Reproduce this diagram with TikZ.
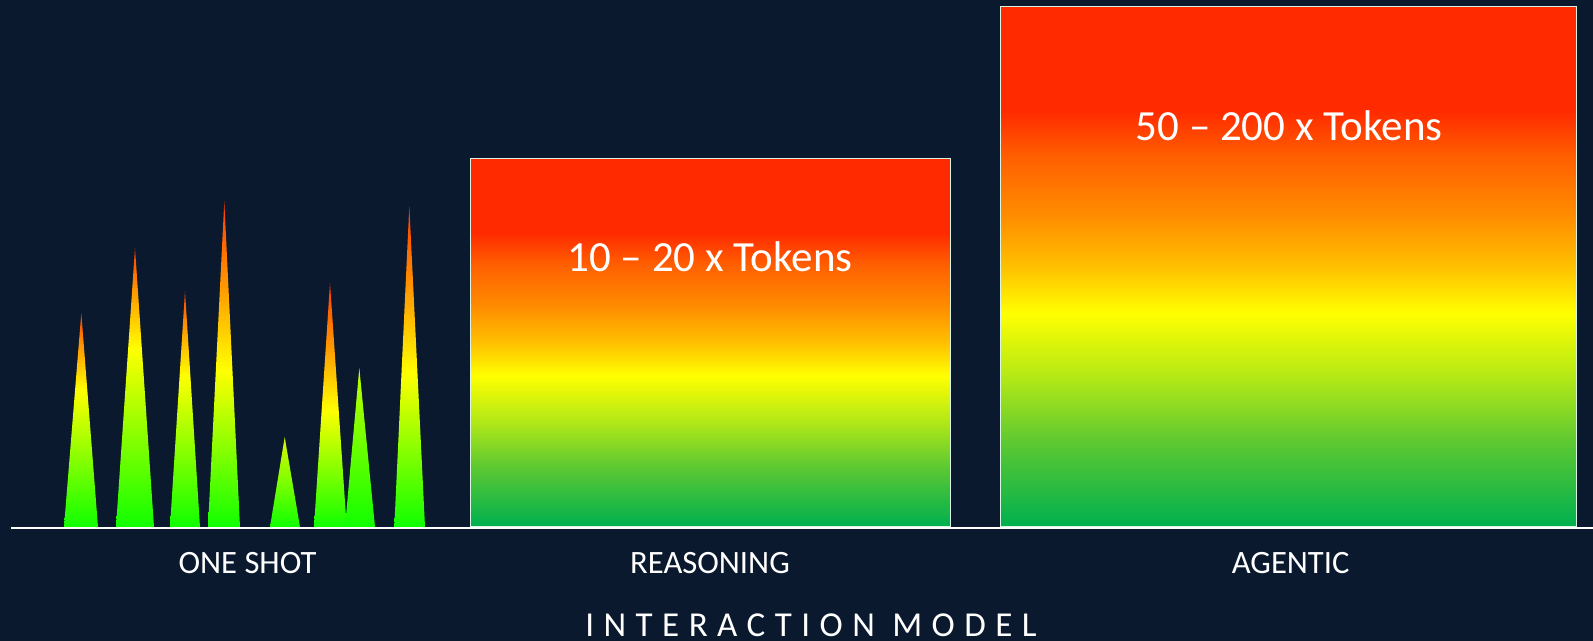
\documentclass[tikz,border=0pt]{standalone}
\usepackage{fontspec}
\setmainfont{Carlito}
\newfontfamily\titlefont[LetterSpace=27]{Carlito}

% colours
\definecolor{bgnavy}{HTML}{0A192E}
\definecolor{spG}{HTML}{10FF00}
\definecolor{spLG}{HTML}{7CFF00}
\definecolor{spY}{HTML}{FFFF00}
\definecolor{spO}{HTML}{FF9000}
\definecolor{spR}{HTML}{FF3A00}
\definecolor{spTipA}{HTML}{DDF500}
\definecolor{spTipB}{HTML}{C4FF00}
\definecolor{bxG}{HTML}{00B04F}
\definecolor{bxG2}{HTML}{5CC832}
\definecolor{bxYG}{HTML}{B2E817}
\definecolor{bxY}{HTML}{FFFF00}
\definecolor{bxAm}{HTML}{FFC000}
\definecolor{bxO}{HTML}{FF8C00}
\definecolor{bxO2}{HTML}{FF6000}
\definecolor{bxR}{HTML}{FF2A00}

% heat gradient of the token boxes (25bp = bottom, 75bp = top)
\pgfdeclareverticalshading{tokenheat}{100bp}{%
  color(0bp)=(bxG); color(25bp)=(bxG); color(33bp)=(bxG2);
  color(39.25bp)=(bxYG); color(45.5bp)=(bxY); color(50bp)=(bxAm);
  color(55bp)=(bxO); color(60.5bp)=(bxO2); color(65bp)=(bxR);
  color(100bp)=(bxR)}

% spike gradients: #1 name, #2 yellow position, #3 orange position
\newcommand\spikeheat[3]{%
  \pgfdeclareverticalshading{#1}{100bp}{%
    color(0bp)=(spG); color(25bp)=(spG); color(#2bp)=(spY);
    color(#3bp)=(spO); color(75bp)=(spR); color(100bp)=(spR)}}
\spikeheat{spikehi}{49}{63}
\spikeheat{spikemid}{57}{68}
\pgfdeclareverticalshading{spikelowA}{100bp}{%
  color(0bp)=(spG); color(25bp)=(spG); color(50bp)=(spLG);
  color(75bp)=(spTipA); color(100bp)=(spTipA)}
\pgfdeclareverticalshading{spikelowB}{100bp}{%
  color(0bp)=(spG); color(25bp)=(spG); color(55bp)=(spLG);
  color(75bp)=(spTipB); color(100bp)=(spTipB)}

\begin{document}
\begin{tikzpicture}[x=0.5pt,y=-0.5pt,
  tokbox/.style={draw=white!85!bxG, line width=0.5pt, shading=tokenheat,
    anchor=south west, inner sep=0pt, outer sep=0pt},
  boxlabel/.style={text=white, font=\fontsize{21.5}{26}\selectfont,
    anchor=base, inner sep=0pt},
  catlabel/.style={text=white, font=\fontsize{16.3}{19}\selectfont,
    anchor=base, inner sep=0pt},
  axistitle/.style={text=white, font=\titlefont\fontsize{17.5}{21}\selectfont,
    anchor=base, inner sep=0pt},
  axisline/.style={draw=white, line width=1pt}]

% canvas
\fill[bgnavy] (0,0) rectangle (1593,641);
\useasboundingbox (0,0) rectangle (1593,641);

% one-shot spikes
\shade[shading=spikemid]  (64,527)  -- (81.3,313)  -- (98,527)  -- cycle;
\shade[shading=spikemid]  (116,527) -- (135,248)   -- (154,527) -- cycle;
\shade[shading=spikemid]  (170,527) -- (185,291)   -- (200,527) -- cycle;
\shade[shading=spikehi]   (208,527) -- (224.3,201) -- (240,527) -- cycle;
\shade[shading=spikelowA] (270,527) -- (284.7,437) -- (300,527) -- cycle;
\shade[shading=spikehi]   (314,527) -- (330,283)   -- (346.7,527) -- cycle;
\shade[shading=spikelowB] (345,527) -- (359.3,368) -- (375,527) -- cycle;
\shade[shading=spikehi]   (394.3,527) -- (409.3,206) -- (425,527) -- cycle;

% token boxes
\node[tokbox, minimum width=240.25pt, minimum height=183.5pt]
  (reasoning) at (470,526) {};
\node[tokbox, minimum width=288pt, minimum height=259.5pt]
  (agentic) at (1000.5,526) {};

\node[boxlabel] (reasoningtxt) at (710,272) {10 – 20 x Tokens};
\node[boxlabel] (agentictxt) at (1289,141) {50 – 200 x Tokens};

% axis
\coordinate (axisL) at (11,528);
\coordinate (axisR) at (1593,528);
\draw[axisline] (axisL) -- (axisR);

\node[catlabel] (oneshot) at (247.5,573.3) {ONE SHOT};
\node[catlabel] (reasoncat) at (710,573.3) {REASONING};
\node[catlabel] (agentcat) at (1290.6,573.3) {AGENTIC};

\node[axistitle] (model) at (811,636) {INTERACTION MODEL};
\end{tikzpicture}
\end{document}
